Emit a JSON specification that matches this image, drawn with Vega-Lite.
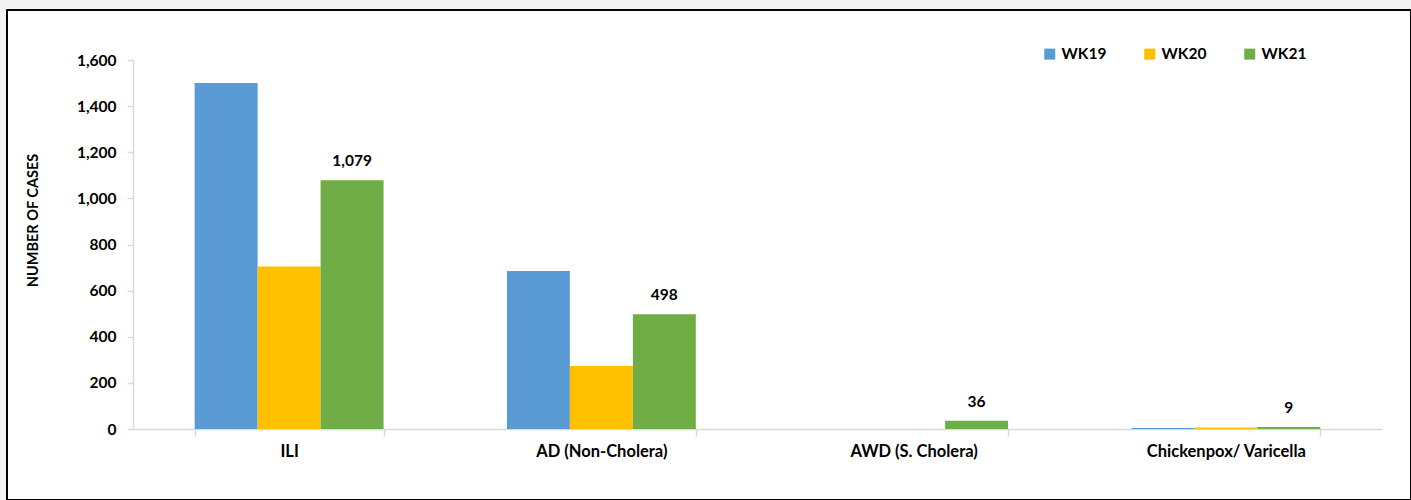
{
  "$schema": "https://vega.github.io/schema/vega-lite/v6.json",
  "autosize": {"type": "none"},
  "width": 1404,
  "height": 490,
  "padding": {"left": 7, "top": 10, "right": 0, "bottom": 0},
  "background": "#f2f2f2",
  "config": {
    "view": {"fill": "white", "stroke": "black", "strokeWidth": 2},
    "font": "Lato"
  },
  "data": {
    "values": [
      {"disease": "ILI", "week": "WK19", "cases": 1500},
      {"disease": "ILI", "week": "WK20", "cases": 705},
      {"disease": "ILI", "week": "WK21", "cases": 1079},
      {"disease": "AD (Non-Cholera)", "week": "WK19", "cases": 685},
      {"disease": "AD (Non-Cholera)", "week": "WK20", "cases": 273},
      {"disease": "AD (Non-Cholera)", "week": "WK21", "cases": 498},
      {"disease": "AWD (S. Cholera)", "week": "WK19", "cases": 0},
      {"disease": "AWD (S. Cholera)", "week": "WK20", "cases": 0},
      {"disease": "AWD (S. Cholera)", "week": "WK21", "cases": 36},
      {"disease": "Chickenpox/ Varicella", "week": "WK19", "cases": 4},
      {"disease": "Chickenpox/ Varicella", "week": "WK20", "cases": 7},
      {"disease": "Chickenpox/ Varicella", "week": "WK21", "cases": 9}
    ]
  },
  "encoding": {
    "x": {
      "field": "disease",
      "type": "nominal",
      "sort": ["ILI", "AD (Non-Cholera)", "AWD (S. Cholera)", "Chickenpox/ Varicella"],
      "scale": {"range": [126, 1375], "paddingInner": 0.395, "paddingOuter": 0.1975},
      "axis": {
        "title": null,
        "offset": -71,
        "labelAngle": 0,
        "tickBand": "extent",
        "domainColor": "#d9d9d9",
        "domainWidth": 1.5,
        "tickColor": "#d9d9d9",
        "tickWidth": 1.5,
        "tickSize": 7,
        "labelFontSize": 16.5,
        "labelFontWeight": "bold",
        "labelColor": "black",
        "labelPadding": 7
      }
    },
    "xOffset": {
      "field": "week",
      "type": "nominal",
      "sort": ["WK19", "WK20", "WK21"],
      "scale": {"paddingInner": 0}
    },
    "y": {
      "field": "cases",
      "type": "quantitative",
      "scale": {"domain": [0, 1600], "range": [419, 50], "nice": false},
      "axis": {
        "offset": -126,
        "values": [0, 200, 400, 600, 800, 1000, 1200, 1400, 1600],
        "format": ",.0f",
        "grid": false,
        "domainColor": "#d9d9d9",
        "domainWidth": 1.5,
        "tickColor": "#d9d9d9",
        "tickWidth": 1.5,
        "tickSize": 6,
        "labelFontSize": 15.5,
        "labelFontWeight": "bold",
        "labelColor": "black",
        "labelPadding": 11,
        "title": "NUMBER OF CASES",
        "titleFontSize": 14.5,
        "titleFontWeight": "bold",
        "titleColor": "black",
        "titleAngle": -90,
        "titleAlign": "center",
        "titleBaseline": "middle",
        "titleX": -100,
        "titleY": 210
      }
    }
  },
  "layer": [
    {
      "mark": {"type": "bar"},
      "encoding": {
        "color": {
          "field": "week",
          "type": "nominal",
          "scale": {"domain": ["WK19", "WK20", "WK21"], "range": ["#5b9bd5", "#ffc000", "#70ad47"]},
          "legend": {
            "orient": "none",
            "legendX": 1035,
            "legendY": 36,
            "direction": "horizontal",
            "title": null,
            "symbolType": "square",
            "symbolSize": 121,
            "symbolStrokeWidth": 0,
            "labelFontSize": 15.5,
            "labelFontWeight": "bold",
            "labelColor": "black",
            "labelOffset": 4,
            "columnPadding": 35
          }
        }
      }
    },
    {
      "transform": [{"filter": "datum.week === 'WK21'"}],
      "mark": {"type": "text", "baseline": "bottom", "dy": -11, "fontSize": 15.5, "fontWeight": "bold", "color": "black"},
      "encoding": {
        "text": {"field": "cases", "type": "quantitative", "format": ","}
      }
    }
  ]
}
